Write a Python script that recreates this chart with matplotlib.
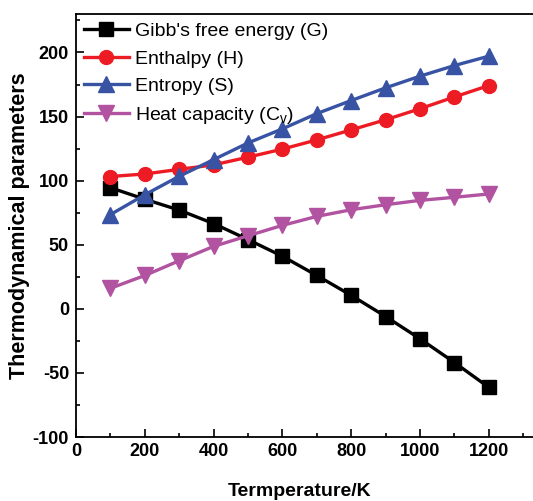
import matplotlib
matplotlib.use("Agg")
import matplotlib.pyplot as plt
from matplotlib.ticker import MultipleLocator

plt.rcParams['font.family'] = ['Liberation Sans', 'DejaVu Sans']
plt.rcParams['mathtext.fontset'] = 'custom'
plt.rcParams['mathtext.rm'] = 'Liberation Sans'
plt.rcParams['axes.unicode_minus'] = False

temperature = [100, 200, 300, 400, 500, 600, 700, 800, 900, 1000, 1100, 1200]
gibbs = [94.5, 85.5, 77, 66.5, 54, 41, 26, 10.5, -6, -23.4, -41.9, -61.3]
enthalpy = [103.2, 105.2, 108.8, 112.3, 118.3, 124.6, 131.8, 139.6, 147.5, 156.1, 165.3, 174.2]
entropy = [73.5, 89, 103.4, 116.4, 129.4, 140.4, 152.3, 162.5, 172.4, 181.5, 189.8, 197.1]
heat_capacity = [16, 26, 37.5, 48.7, 57, 65.1, 72.1, 77.3, 81.2, 84.6, 87, 89.6]

labels = ["Gibb's free energy (G)", "Enthalpy (H)", "Entropy (S)",
          r"Heat capacity (C$_\mathregular{v}$)"]

W, H = 533, 501
fig = plt.figure(figsize=(W / 100, H / 100), dpi=100)
ax_left, ax_bottom, ax_width, ax_height = 76, 64, 461, 423
ax = fig.add_axes([ax_left / W, ax_bottom / H, ax_width / W, ax_height / H])

lw = 2.4
ax.plot(temperature, gibbs, color='black', marker='s', markersize=9.5, lw=lw, label=labels[0])
ax.plot(temperature, enthalpy, color='#ED1C24', marker='o', markersize=10, lw=lw, label=labels[1])
ax.plot(temperature, entropy, color='#3953A4', marker='^', markersize=11.5, lw=lw, label=labels[2])
ax.plot(temperature, heat_capacity, color='#B153A0', marker='v', markersize=11.5, lw=lw, label=labels[3])

ax.set_xlim(0, 1340)
ax.set_ylim(-100, 230)
ax.xaxis.set_major_locator(MultipleLocator(200))
ax.xaxis.set_minor_locator(MultipleLocator(100))
ax.yaxis.set_major_locator(MultipleLocator(50))
ax.yaxis.set_minor_locator(MultipleLocator(25))

ax.tick_params(which='both', direction='in', width=1.2, top=False, right=False)
ax.tick_params(which='major', length=6)
ax.tick_params(which='minor', length=3)
ax.tick_params(axis='x', pad=4)
ax.tick_params(axis='y', pad=5)
for lab in ax.get_xticklabels() + ax.get_yticklabels():
    lab.set_fontweight('bold')
    lab.set_fontsize(13)

for sp in ax.spines.values():
    sp.set_linewidth(1.3)

ax.set_xlabel('Termperature/K', fontsize=14, fontweight='bold')
ax.set_ylabel('Thermodynamical parameters', fontsize=15.5, fontweight='bold')
# place axis labels (in axes-fraction coordinates)
ax.xaxis.set_label_coords((300 - ax_left) / ax_width, -(491 - 437) / ax_height)
ax.yaxis.set_label_coords(-(76 - 20) / ax_width, 0.5)
ax.xaxis.label.set_va('center')
ax.yaxis.label.set_va('center')

leg = ax.legend(loc='upper left', frameon=False, fontsize=14, handlelength=2.3,
                handletextpad=0.35, labelspacing=0.5, borderaxespad=0.0,
                bbox_to_anchor=(0.0, 0.998))

fig.savefig('out.png', dpi=100)
